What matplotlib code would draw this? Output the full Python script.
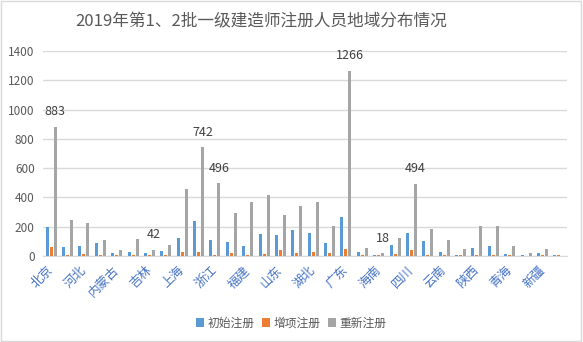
import numpy as np
import matplotlib
matplotlib.use("Agg")
import matplotlib.pyplot as plt
from matplotlib.patches import Rectangle

plt.rcParams['font.family'] = ['Noto Sans CJK SC', 'DejaVu Sans']

provinces = ["北京", "天津", "河北", "山西", "内蒙古", "辽宁", "吉林", "黑龙江",
             "上海", "江苏", "浙江", "安徽", "福建", "江西", "山东", "河南",
             "湖北", "湖南", "广东", "广西", "海南", "重庆", "四川", "贵州",
             "云南", "西藏", "陕西", "甘肃", "青海", "宁夏", "新疆", "新疆兵团"]

initial = [196, 58, 65, 92, 20, 30, 23, 37, 125, 236, 111, 97, 69, 152, 146, 180,
           159, 90, 263, 28, 5, 76, 159, 104, 28, 4, 55, 69, 14, 5, 21, 5]
added = [58, 6, 16, 6, 6, 7, 6, 6, 30, 30, 6, 21, 6, 14, 42, 21,
         28, 21, 49, 5, 5, 14, 42, 5, 5, 5, 5, 5, 5, 1, 5, 5]
renewed = [883, 249, 224, 106, 43, 118, 42, 78, 457, 742, 496, 291, 367, 416, 277, 340,
           367, 208, 1266, 55, 18, 125, 494, 187, 111, 49, 208, 208, 69, 21, 49, 0]

# which gray bars carry a value label
labelled = ["北京", "吉林", "江苏", "浙江", "广东", "海南", "四川"]

text_c = "#595959"
grid_c = "#D9D9D9"

fig = plt.figure(figsize=(5.83, 3.42), dpi=100)
ax = fig.add_axes([0.0738, 0.2515, 0.8988, 0.5994])

x = np.arange(len(provinces))
w = 0.18
off = 0.244
ax.bar(x - off, initial, w, color="#5B9BD5", label="初始注册", zorder=3)
ax.bar(x, added, w, color="#ED7D31", label="增项注册", zorder=3)
ax.bar(x + off, renewed, w, color="#A5A5A5", label="重新注册", zorder=3)

for name in labelled:
    i = provinces.index(name)
    ax.annotate(str(renewed[i]), (x[i] + off, renewed[i]), xytext=(0, 11),
                textcoords="offset points", ha="center", va="center",
                fontsize=9, color="#404040")

ax.set_xlim(-0.5, len(provinces) - 0.5)
ax.set_ylim(0, 1400)
ax.set_yticks(range(0, 1401, 200))
ax.yaxis.grid(True, color=grid_c, linewidth=1, zorder=0)
ax.tick_params(axis="both", length=0, colors=text_c, labelsize=8.5)
ax.tick_params(axis="y", pad=6)

ax.set_xticks(x[::2])
ax.set_xticklabels(provinces[::2], rotation=45, ha="right", va="center",
                   rotation_mode="anchor", fontsize=9, color="#4472C4")
ax.tick_params(axis="x", pad=9)

for s in ["top", "right", "left"]:
    ax.spines[s].set_visible(False)
ax.spines["bottom"].set_color(grid_c)

fig.text(0.448, 0.935, "2019年第1、2批一级建造师注册人员地域分布情况",
         ha="center", va="center", fontsize=12, color=text_c)

fig.legend(loc="center", bbox_to_anchor=(0.5, 0.055), ncol=3, frameon=False,
           fontsize=8.5, handlelength=0.7, handleheight=0.7, handletextpad=0.3,
           columnspacing=0.6, labelcolor=text_c)

fig.add_artist(Rectangle((0.002, 0.003), 0.994, 0.994, transform=fig.transFigure,
                         fill=False, edgecolor=grid_c, linewidth=1))

fig.savefig("out.png", dpi=100)
